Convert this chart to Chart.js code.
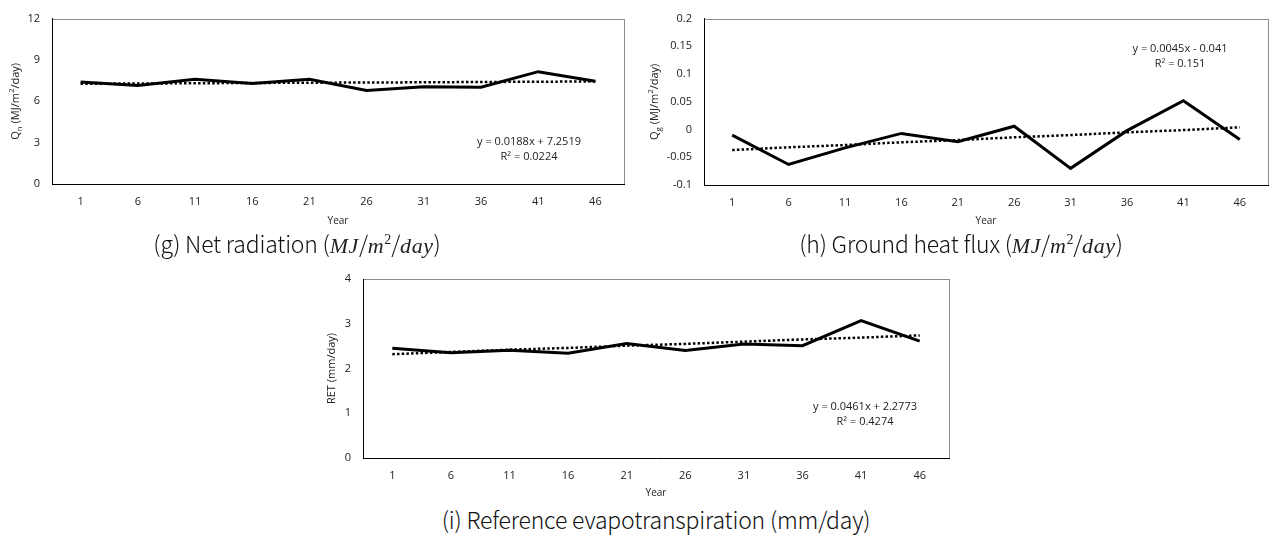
<!DOCTYPE html>
<html>
<head>
<meta charset="utf-8">
<script src="https://cdn.jsdelivr.net/npm/chart.js@4.4.0/dist/chart.umd.min.js"></script>
<style>
    body { margin: 0; width: 1269px; height: 540px; background: #fff; position: relative; overflow: hidden; font-family: 'Noto Sans CJK KR', 'Noto Sans', sans-serif; }
    .box { position: absolute; }
    .cap { position: absolute; font-size: 23px; font-weight: 300; color: #111; white-space: nowrap; transform: translate(-50%, -50%); line-height: 1; letter-spacing: -0.2px; }
    .m { font-family: 'Liberation Serif', serif; font-style: italic; font-size: 22px; font-weight: normal; color: #222; letter-spacing: 0.6px; }
    .sup { font-family: 'Liberation Serif', serif; font-size: 14px; font-weight: normal; color: #222; position: relative; top: -9px; }
</style>
</head>
<body>
<div class="box" style="left:0;top:0;width:640px;height:232px"><canvas id="chartG"></canvas></div>
<div class="box" style="left:640px;top:0;width:629px;height:232px"><canvas id="chartH"></canvas></div>
<div class="box" style="left:320px;top:260px;width:640px;height:240px"><canvas id="chartI"></canvas></div>

<div class="cap" style="left:297px;top:244px">(g) Net radiation (<span class="m">MJ</span>/<span class="m">m</span><span class="sup">2</span>/<span class="m">day</span>)</div>
<div class="cap" style="left:961px;top:244px">(h) Ground heat flux (<span class="m">MJ</span>/<span class="m">m</span><span class="sup">2</span>/<span class="m">day</span>)</div>
<div class="cap" style="left:656px;top:519px">(i) Reference evapotranspiration (mm/day)</div>

<script>
// Años (eje x)
const years = ['1', '6', '11', '16', '21', '26', '31', '36', '41', '46'];

// (g) Radiación neta
const netRad = [7.40, 7.15, 7.60, 7.30, 7.60, 6.78, 7.05, 7.02, 8.15, 7.45];
const netRadTrend = [7.27, 7.29, 7.31, 7.33, 7.35, 7.36, 7.38, 7.40, 7.42, 7.44];
const netRadTicks = ['0', '3', '6', '9', '12'];

// (h) Flujo de calor del suelo
const groundHeat = [-0.010, -0.063, -0.033, -0.007, -0.022, 0.006, -0.070, -0.002, 0.052, -0.018];
const groundHeatTrend = [-0.037, -0.032, -0.028, -0.023, -0.019, -0.014, -0.010, -0.005, -0.001, 0.004];
const groundHeatTicks = ['-0.1', '-0.05', '0', '0.05', '0.1', '0.15', '0.2'];

// (i) Evapotranspiración de referencia
const refET = [2.45, 2.35, 2.41, 2.34, 2.56, 2.40, 2.55, 2.51, 3.07, 2.61];
const refETTrend = [2.32, 2.37, 2.42, 2.46, 2.51, 2.55, 2.60, 2.65, 2.69, 2.74];
const refETTicks = ['0', '1', '2', '3', '4'];

Chart.defaults.font.family = "'Open Sans', sans-serif";
Chart.defaults.color = '#222';

// Texto con subíndices / superíndices (título eje y)
function drawRich(ctx, segs, size) {
    const base = size + "px 'Open Sans'";
    const small = Math.round(size * 0.7) + "px 'Open Sans'";
    let total = 0;
    segs.forEach(s => {
        ctx.font = (s.sub || s.sup) ? small : base;
        s.w = ctx.measureText(s.t).width;
        total += s.w;
    });
    let x = -total / 2;
    segs.forEach(s => {
        ctx.font = (s.sub || s.sup) ? small : base;
        const dy = s.sub ? size * 0.3 : (s.sup ? -size * 0.35 : 0);
        ctx.fillText(s.t, x, dy);
        x += s.w;
    });
}

// Marco del área, título del eje y y ecuación de la tendencia
const extras = {
    id: 'extras',
    beforeDraw(chart, args, opts) {
        const a = chart.chartArea;
        const ctx = chart.ctx;
        ctx.save();
        ctx.strokeStyle = '#8c8c8c';
        ctx.lineWidth = 1;
        ctx.strokeRect(Math.round(a.left) + 0.5, Math.round(a.top) + 0.5, Math.round(a.width), Math.round(a.height));
        ctx.restore();
    },
    afterDraw(chart, args, opts) {
        const a = chart.chartArea;
        const ctx = chart.ctx;
        ctx.save();
        ctx.fillStyle = '#222';
        ctx.textBaseline = 'middle';
        ctx.textAlign = 'left';
        ctx.translate(opts.titleX, (a.top + a.bottom) / 2);
        ctx.rotate(-Math.PI / 2);
        drawRich(ctx, opts.title, 11);
        ctx.restore();

        ctx.save();
        ctx.fillStyle = '#222';
        ctx.font = "11px 'Open Sans'";
        ctx.textAlign = 'center';
        ctx.textBaseline = 'middle';
        opts.eq.forEach((line, i) => ctx.fillText(line, opts.eqX, opts.eqY + i * 15));
        ctx.restore();
    }
};

function makeChart(id, cfg) {
    return new Chart(document.getElementById(id), {
        type: 'line',
        data: {
            labels: years,
            datasets: [{
                data: cfg.values,
                borderColor: '#000',
                borderWidth: 3,
                pointRadius: 0,
                tension: 0,
                order: 1
            }, {
                data: cfg.trend,
                borderColor: '#000',
                borderWidth: 2.5,
                borderDash: [2.5, 2.2],
                pointRadius: 0,
                tension: 0,
                order: 0
            }]
        },
        options: {
            responsive: true,
            maintainAspectRatio: false,
            animation: false,
            events: [],
            layout: { padding: cfg.pad },
            plugins: {
                legend: { display: false },
                tooltip: { enabled: false },
                extras: { title: cfg.title, titleX: cfg.titleX, eq: cfg.eq, eqX: cfg.eqX, eqY: cfg.eqY }
            },
            scales: {
                x: {
                    offset: true,
                    grid: { display: false, drawTicks: false },
                    border: { display: true, color: '#000', width: 1 },
                    ticks: { padding: 11, font: { size: 11 }, maxRotation: 0, autoSkip: false },
                    title: { display: true, text: 'Year', font: { size: 10 }, padding: { top: 0, bottom: cfg.yearPad } },
                    afterFit: s => { s.height = cfg.xH; }
                },
                y: {
                    min: cfg.min,
                    max: cfg.max,
                    grid: { display: false, drawTicks: false },
                    border: { display: true, color: '#000', width: 1 },
                    ticks: {
                        stepSize: cfg.step,
                        padding: 12,
                        font: { size: 11 },
                        callback: (v, i) => cfg.ticks[i] !== undefined ? cfg.ticks[i] : v
                    },
                    afterFit: s => { s.width = cfg.yW; }
                }
            }
        },
        plugins: [extras]
    });
}

makeChart('chartG', {
    values: netRad, trend: netRadTrend, ticks: netRadTicks,
    min: 0, max: 12, step: 3,
    pad: { left: 0, top: 15, right: 16, bottom: 0 }, yW: 52, xH: 48, yearPad: 5,
    title: [{ t: 'Q' }, { t: 'n', sub: true }, { t: ' (MJ/m' }, { t: '2', sup: true }, { t: '/day)' }],
    titleX: 16,
    eq: ['y = 0.0188x + 7.2519', 'R² = 0.0224'], eqX: 529, eqY: 142
});

makeChart('chartH', {
    values: groundHeat, trend: groundHeatTrend, ticks: groundHeatTicks,
    min: -0.1, max: 0.2, step: 0.05,
    pad: { left: 0, top: 11, right: 1, bottom: 0 }, yW: 64, xH: 47, yearPad: 5,
    title: [{ t: 'Q' }, { t: 'g', sub: true }, { t: ' (MJ/m' }, { t: '2', sup: true }, { t: '/day)' }],
    titleX: 15,
    eq: ['y = 0.0045x - 0.041', 'R² = 0.151'], eqX: 540, eqY: 49
});

makeChart('chartI', {
    values: refET, trend: refETTrend, ticks: refETTicks,
    min: 0, max: 4, step: 1,
    pad: { left: 0, top: 19, right: 11, bottom: 0 }, yW: 43, xH: 42, yearPad: 1,
    title: [{ t: 'RET (mm/day)' }],
    titleX: 12,
    eq: ['y = 0.0461x + 2.2773', 'R² = 0.4274'], eqX: 545, eqY: 147
});
</script>
</body>
</html>
